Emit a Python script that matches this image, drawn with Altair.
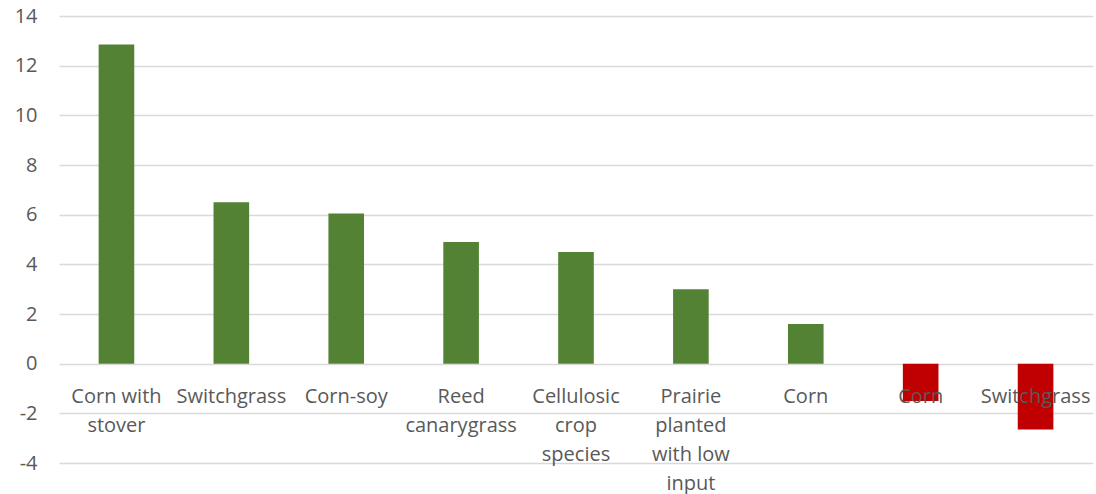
import altair as alt
import pandas as pd

# Category labels (line breaks as they wrap under each bar)
labels = [
    "Corn with\nstover",
    "Switchgrass",
    "Corn-soy",
    "Reed\ncanarygrass",
    "Cellulosic\ncrop\nspecies",
    "Prairie\nplanted\nwith low\ninput",
    "Corn",
    "Corn",
    "Switchgrass",
]
values = [12.85, 6.5, 6.05, 4.9, 4.5, 3.0, 1.6, -1.5, -2.65]
groups = ["pos", "pos", "pos", "pos", "pos", "pos", "pos", "neg", "neg"]

df = pd.DataFrame({
    "idx": list(range(len(labels))),
    "label": labels,
    "value": values,
    "group": groups,
})

font = "Open Sans"
x_enc = alt.X("idx:O", axis=None,
              scale=alt.Scale(paddingInner=0.69, paddingOuter=0.345))

bars = alt.Chart(df).mark_bar().encode(
    x=x_enc,
    y=alt.Y("value:Q",
            scale=alt.Scale(domain=[-4, 14], nice=False),
            axis=alt.Axis(values=list(range(-4, 15, 2)), title=None,
                          domain=False, ticks=False, grid=True,
                          gridColor="#d9d9d9", gridWidth=1.3,
                          labelExpr="replace(datum.label, '\u2212', '-')",
                          labelFont=font, labelFontSize=20,
                          labelColor="#595959", labelPadding=22)),
    color=alt.Color("group:N",
                    scale=alt.Scale(domain=["pos", "neg"],
                                    range=["#548235", "#c00000"]),
                    legend=None),
)

text = alt.Chart(df).transform_calculate(
    zero="0"
).mark_text(
    baseline="top", align="center", dy=23, lineBreak="\n",
    lineHeight=29, font=font, fontSize=20, color="#595959",
).encode(
    x=x_enc,
    y=alt.Y("zero:Q"),
    text="label:N",
)

chart = alt.layer(bars, text).properties(
    width=1034, height=447,
    autosize=alt.AutoSizeParams(type="none"),
    padding={"left": 59, "top": 16, "right": 3, "bottom": 31},
).configure_view(stroke=None)

chart.save("out.html", embed_options={"renderer": "svg", "actions": False})
